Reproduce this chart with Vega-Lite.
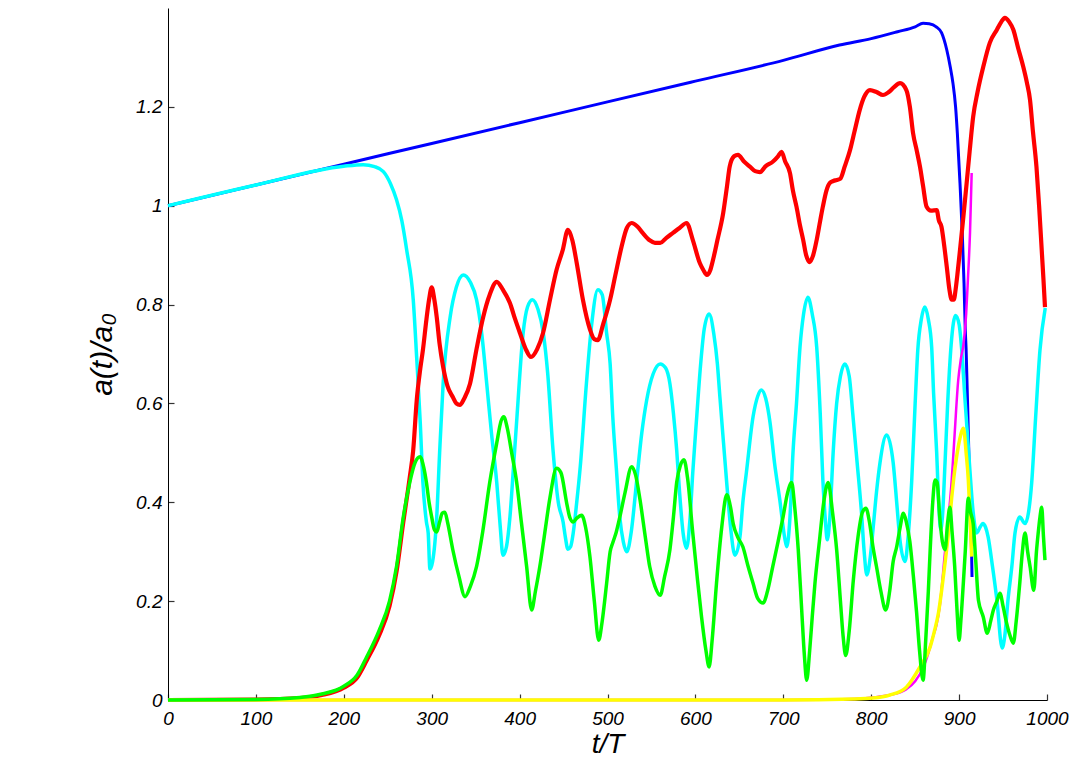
{
"$schema": "https://vega.github.io/schema/vega-lite/v6.json",
"width": 879, "height": 692,
"autosize": {"type": "none"},
"padding": {"left": 168, "top": 8, "right": 27, "bottom": 57},
"background": "white",
"config": {
  "view": {"stroke": null},
  "axis": {"domainColor": "#000", "labelFont": "Liberation Sans", "labelFontStyle": "italic", "labelFontSize": 19, "labelColor": "#000",
    "titleFont": "Liberation Sans", "titleFontStyle": "italic", "titleFontWeight": "normal", "titleFontSize": 28, "titleColor": "#000",
    "grid": true, "gridColor": "#333", "gridWidth": 1.2, "gridOpacity": 1, "ticks": false, "domainWidth": 1}
},
"datasets": {
"d": [
{"s":"blue","t":0,"v":1.0},{"s":"blue","t":100,"v":1.042},{"s":"blue","t":200,"v":1.084},{"s":"blue","t":300,"v":1.126},{"s":"blue","t":400,"v":1.168},{"s":"blue","t":500,"v":1.21},{"s":"blue","t":600,"v":1.252},{"s":"blue","t":700,"v":1.294},{"s":"blue","t":764,"v":1.325},{"s":"blue","t":800,"v":1.338},{"s":"blue","t":830,"v":1.352},{"s":"blue","t":850,"v":1.362},{"s":"blue","t":859,"v":1.369},{"s":"blue","t":866,"v":1.368},{"s":"blue","t":874,"v":1.362},{"s":"blue","t":880,"v":1.35},{"s":"blue","t":886,"v":1.315},{"s":"blue","t":890,"v":1.28},{"s":"blue","t":893,"v":1.248},{"s":"blue","t":896,"v":1.2},{"s":"blue","t":898,"v":1.147},{"s":"blue","t":901,"v":1.046},{"s":"blue","t":903.6,"v":0.945},{"s":"blue","t":905.6,"v":0.843},{"s":"blue","t":907,"v":0.75},{"s":"blue","t":908,"v":0.708},{"s":"blue","t":910.5,"v":0.54},{"s":"blue","t":912.4,"v":0.405},{"s":"blue","t":914.3,"v":0.29},{"s":"blue","t":914.7,"v":0.249},

{"s":"cyan","t":0,"v":1.0},{"s":"cyan","t":100,"v":1.042},{"s":"cyan","t":200,"v":1.08},{"s":"cyan","t":222,"v":1.083},{"s":"cyan","t":235,"v":1.079},{"s":"cyan","t":245,"v":1.069},{"s":"cyan","t":253,"v":1.045},{"s":"cyan","t":260,"v":1.012},{"s":"cyan","t":266,"v":0.97},{"s":"cyan","t":271.5,"v":0.911},{"s":"cyan","t":279,"v":0.81},{"s":"cyan","t":283,"v":0.69},{"s":"cyan","t":287,"v":0.56},{"s":"cyan","t":290,"v":0.44},{"s":"cyan","t":294,"v":0.36},{"s":"cyan","t":296,"v":0.338},{"s":"cyan","t":298,"v":0.265},{"s":"cyan","t":301,"v":0.28},{"s":"cyan","t":305.7,"v":0.37},{"s":"cyan","t":309,"v":0.5},{"s":"cyan","t":313,"v":0.64},{"s":"cyan","t":321,"v":0.775},{"s":"cyan","t":328,"v":0.835},{"s":"cyan","t":336,"v":0.86},{"s":"cyan","t":344,"v":0.845},{"s":"cyan","t":351,"v":0.81},{"s":"cyan","t":357,"v":0.74},{"s":"cyan","t":362.6,"v":0.64},{"s":"cyan","t":368,"v":0.54},{"s":"cyan","t":374,"v":0.44},{"s":"cyan","t":378,"v":0.35},{"s":"cyan","t":381,"v":0.293},{"s":"cyan","t":385,"v":0.31},{"s":"cyan","t":389,"v":0.37},{"s":"cyan","t":393,"v":0.47},{"s":"cyan","t":397,"v":0.573},{"s":"cyan","t":404,"v":0.742},{"s":"cyan","t":409,"v":0.795},{"s":"cyan","t":414.5,"v":0.81},{"s":"cyan","t":421,"v":0.79},{"s":"cyan","t":427,"v":0.742},{"s":"cyan","t":432,"v":0.66},{"s":"cyan","t":438,"v":0.506},{"s":"cyan","t":444,"v":0.4},{"s":"cyan","t":449.5,"v":0.36},{"s":"cyan","t":452,"v":0.33},{"s":"cyan","t":455,"v":0.305},{"s":"cyan","t":458,"v":0.31},{"s":"cyan","t":461,"v":0.338},{"s":"cyan","t":465,"v":0.4},{"s":"cyan","t":469,"v":0.472},{"s":"cyan","t":476,"v":0.64},{"s":"cyan","t":482,"v":0.76},{"s":"cyan","t":489,"v":0.83},{"s":"cyan","t":494,"v":0.82},{"s":"cyan","t":499,"v":0.742},{"s":"cyan","t":503,"v":0.68},{"s":"cyan","t":506,"v":0.573},{"s":"cyan","t":510,"v":0.47},{"s":"cyan","t":514,"v":0.37},{"s":"cyan","t":518,"v":0.32},{"s":"cyan","t":522,"v":0.3},{"s":"cyan","t":527,"v":0.34},{"s":"cyan","t":533,"v":0.44},{"s":"cyan","t":539,"v":0.54},{"s":"cyan","t":544.6,"v":0.607},{"s":"cyan","t":552,"v":0.66},{"s":"cyan","t":560,"v":0.68},{"s":"cyan","t":566,"v":0.672},{"s":"cyan","t":571,"v":0.64},{"s":"cyan","t":575,"v":0.58},{"s":"cyan","t":578.7,"v":0.506},{"s":"cyan","t":582,"v":0.42},{"s":"cyan","t":586,"v":0.338},{"s":"cyan","t":590,"v":0.307},{"s":"cyan","t":594,"v":0.37},{"s":"cyan","t":597,"v":0.46},{"s":"cyan","t":601.5,"v":0.573},{"s":"cyan","t":606,"v":0.68},{"s":"cyan","t":610,"v":0.75},{"s":"cyan","t":615.6,"v":0.781},{"s":"cyan","t":621,"v":0.74},{"s":"cyan","t":625,"v":0.68},{"s":"cyan","t":628,"v":0.61},{"s":"cyan","t":632,"v":0.52},{"s":"cyan","t":635.6,"v":0.44},{"s":"cyan","t":640,"v":0.35},{"s":"cyan","t":645,"v":0.293},{"s":"cyan","t":650.7,"v":0.33},{"s":"cyan","t":654,"v":0.4},{"s":"cyan","t":658,"v":0.46},{"s":"cyan","t":665.6,"v":0.573},{"s":"cyan","t":671,"v":0.615},{"s":"cyan","t":675,"v":0.627},{"s":"cyan","t":680,"v":0.61},{"s":"cyan","t":685,"v":0.56},{"s":"cyan","t":690,"v":0.48},{"s":"cyan","t":696,"v":0.405},{"s":"cyan","t":702,"v":0.324},{"s":"cyan","t":704,"v":0.31},{"s":"cyan","t":707.6,"v":0.37},{"s":"cyan","t":711,"v":0.5},{"s":"cyan","t":715,"v":0.6},{"s":"cyan","t":719,"v":0.714},{"s":"cyan","t":723,"v":0.78},{"s":"cyan","t":728,"v":0.815},{"s":"cyan","t":733,"v":0.78},{"s":"cyan","t":738,"v":0.714},{"s":"cyan","t":742,"v":0.58},{"s":"cyan","t":745,"v":0.445},{"s":"cyan","t":748,"v":0.36},{"s":"cyan","t":750,"v":0.324},{"s":"cyan","t":753,"v":0.37},{"s":"cyan","t":756.7,"v":0.5},{"s":"cyan","t":760.7,"v":0.6},{"s":"cyan","t":765,"v":0.655},{"s":"cyan","t":770,"v":0.68},{"s":"cyan","t":775,"v":0.655},{"s":"cyan","t":779,"v":0.58},{"s":"cyan","t":784,"v":0.48},{"s":"cyan","t":789,"v":0.378},{"s":"cyan","t":792,"v":0.3},{"s":"cyan","t":795,"v":0.253},{"s":"cyan","t":799,"v":0.29},{"s":"cyan","t":802,"v":0.344},{"s":"cyan","t":806,"v":0.42},{"s":"cyan","t":810,"v":0.48},{"s":"cyan","t":817.6,"v":0.536},{"s":"cyan","t":825,"v":0.48},{"s":"cyan","t":829,"v":0.4},{"s":"cyan","t":832.7,"v":0.324},{"s":"cyan","t":838.5,"v":0.28},{"s":"cyan","t":842,"v":0.33},{"s":"cyan","t":846,"v":0.44},{"s":"cyan","t":850,"v":0.6},{"s":"cyan","t":853,"v":0.708},{"s":"cyan","t":857,"v":0.77},{"s":"cyan","t":861,"v":0.795},{"s":"cyan","t":865,"v":0.77},{"s":"cyan","t":868.8,"v":0.714},{"s":"cyan","t":871,"v":0.62},{"s":"cyan","t":874.5,"v":0.5},{"s":"cyan","t":877,"v":0.39},{"s":"cyan","t":879,"v":0.345},{"s":"cyan","t":881,"v":0.37},{"s":"cyan","t":884,"v":0.48},{"s":"cyan","t":887,"v":0.6},{"s":"cyan","t":891,"v":0.72},{"s":"cyan","t":896,"v":0.778},{"s":"cyan","t":900,"v":0.76},{"s":"cyan","t":903,"v":0.708},{"s":"cyan","t":907,"v":0.6},{"s":"cyan","t":912,"v":0.472},{"s":"cyan","t":916,"v":0.38},{"s":"cyan","t":920,"v":0.338},{"s":"cyan","t":924,"v":0.35},{"s":"cyan","t":927,"v":0.357},{"s":"cyan","t":930,"v":0.35},{"s":"cyan","t":933,"v":0.33},{"s":"cyan","t":938,"v":0.27},{"s":"cyan","t":943,"v":0.202},{"s":"cyan","t":949,"v":0.105},{"s":"cyan","t":952,"v":0.13},{"s":"cyan","t":955.6,"v":0.202},{"s":"cyan","t":960,"v":0.27},{"s":"cyan","t":963.6,"v":0.338},{"s":"cyan","t":969,"v":0.37},{"s":"cyan","t":975,"v":0.357},{"s":"cyan","t":979,"v":0.38},{"s":"cyan","t":982.6,"v":0.44},{"s":"cyan","t":987,"v":0.57},{"s":"cyan","t":992,"v":0.708},{"s":"cyan","t":998,"v":0.793},

{"s":"red","t":0,"v":0},{"s":"red","t":100,"v":0.001},{"s":"red","t":150,"v":0.004},{"s":"red","t":175,"v":0.01},{"s":"red","t":200,"v":0.025},{"s":"red","t":215,"v":0.045},{"s":"red","t":226,"v":0.08},{"s":"red","t":240,"v":0.13},{"s":"red","t":252,"v":0.19},{"s":"red","t":260,"v":0.26},{"s":"red","t":267.7,"v":0.36},{"s":"red","t":275,"v":0.45},{"s":"red","t":279,"v":0.506},{"s":"red","t":283,"v":0.607},{"s":"red","t":287,"v":0.67},{"s":"red","t":290,"v":0.708},{"s":"red","t":294,"v":0.77},{"s":"red","t":297,"v":0.81},{"s":"red","t":300,"v":0.835},{"s":"red","t":303,"v":0.81},{"s":"red","t":305.7,"v":0.775},{"s":"red","t":309,"v":0.72},{"s":"red","t":313,"v":0.674},{"s":"red","t":318,"v":0.635},{"s":"red","t":324,"v":0.613},{"s":"red","t":328,"v":0.6},{"s":"red","t":332,"v":0.597},{"s":"red","t":337,"v":0.61},{"s":"red","t":343.6,"v":0.64},{"s":"red","t":351,"v":0.71},{"s":"red","t":358.6,"v":0.775},{"s":"red","t":366,"v":0.82},{"s":"red","t":374,"v":0.846},{"s":"red","t":381,"v":0.83},{"s":"red","t":389,"v":0.803},{"s":"red","t":395,"v":0.77},{"s":"red","t":400.5,"v":0.742},{"s":"red","t":407,"v":0.71},{"s":"red","t":413,"v":0.694},{"s":"red","t":420,"v":0.71},{"s":"red","t":426.6,"v":0.742},{"s":"red","t":434.6,"v":0.81},{"s":"red","t":442,"v":0.87},{"s":"red","t":449,"v":0.91},{"s":"red","t":455,"v":0.951},{"s":"red","t":460,"v":0.93},{"s":"red","t":465,"v":0.884},{"s":"red","t":472,"v":0.81},{"s":"red","t":480,"v":0.75},{"s":"red","t":485,"v":0.73},{"s":"red","t":489,"v":0.728},{"s":"red","t":495,"v":0.76},{"s":"red","t":503,"v":0.81},{"s":"red","t":509,"v":0.86},{"s":"red","t":516,"v":0.917},{"s":"red","t":522,"v":0.955},{"s":"red","t":527.5,"v":0.965},{"s":"red","t":534,"v":0.958},{"s":"red","t":540,"v":0.945},{"s":"red","t":548,"v":0.93},{"s":"red","t":554,"v":0.925},{"s":"red","t":560,"v":0.925},{"s":"red","t":567,"v":0.935},{"s":"red","t":574.5,"v":0.945},{"s":"red","t":582,"v":0.955},{"s":"red","t":590,"v":0.965},{"s":"red","t":597,"v":0.931},{"s":"red","t":605,"v":0.884},{"s":"red","t":609,"v":0.87},{"s":"red","t":613,"v":0.86},{"s":"red","t":617,"v":0.87},{"s":"red","t":620,"v":0.89},{"s":"red","t":625,"v":0.93},{"s":"red","t":631.6,"v":0.985},{"s":"red","t":636,"v":1.04},{"s":"red","t":639,"v":1.079},{"s":"red","t":644,"v":1.1},{"s":"red","t":648.5,"v":1.103},{"s":"red","t":655,"v":1.09},{"s":"red","t":662,"v":1.079},{"s":"red","t":668,"v":1.07},{"s":"red","t":673.5,"v":1.068},{"s":"red","t":680,"v":1.08},{"s":"red","t":688,"v":1.089},{"s":"red","t":694,"v":1.1},{"s":"red","t":698,"v":1.109},{"s":"red","t":702,"v":1.09},{"s":"red","t":707.6,"v":1.066},{"s":"red","t":711,"v":1.03},{"s":"red","t":715,"v":0.998},{"s":"red","t":719,"v":0.96},{"s":"red","t":722.6,"v":0.931},{"s":"red","t":726,"v":0.9},{"s":"red","t":730,"v":0.886},{"s":"red","t":734,"v":0.9},{"s":"red","t":738,"v":0.931},{"s":"red","t":742,"v":0.97},{"s":"red","t":745,"v":0.998},{"s":"red","t":749,"v":1.03},{"s":"red","t":753,"v":1.046},{"s":"red","t":757,"v":1.05},{"s":"red","t":760.7,"v":1.052},{"s":"red","t":765,"v":1.055},{"s":"red","t":770,"v":1.08},{"s":"red","t":776,"v":1.113},{"s":"red","t":781,"v":1.15},{"s":"red","t":787,"v":1.194},{"s":"red","t":792,"v":1.22},{"s":"red","t":798.6,"v":1.234},{"s":"red","t":806,"v":1.23},{"s":"red","t":813.4,"v":1.224},{"s":"red","t":820,"v":1.23},{"s":"red","t":826,"v":1.24},{"s":"red","t":832.8,"v":1.248},{"s":"red","t":840,"v":1.234},{"s":"red","t":844,"v":1.2},{"s":"red","t":847.6,"v":1.147},{"s":"red","t":852,"v":1.11},{"s":"red","t":855.5,"v":1.079},{"s":"red","t":859,"v":1.04},{"s":"red","t":863,"v":0.998},{"s":"red","t":868,"v":0.99},{"s":"red","t":874.5,"v":0.991},{"s":"red","t":877,"v":0.97},{"s":"red","t":880,"v":0.957},{"s":"red","t":883,"v":0.92},{"s":"red","t":886,"v":0.876},{"s":"red","t":889,"v":0.83},{"s":"red","t":891.6,"v":0.81},{"s":"red","t":894,"v":0.81},{"s":"red","t":896,"v":0.83},{"s":"red","t":898,"v":0.86},{"s":"red","t":901,"v":0.91},{"s":"red","t":905,"v":0.98},{"s":"red","t":908.6,"v":1.046},{"s":"red","t":912,"v":1.11},{"s":"red","t":916,"v":1.18},{"s":"red","t":921,"v":1.23},{"s":"red","t":927.5,"v":1.281},{"s":"red","t":935,"v":1.33},{"s":"red","t":943,"v":1.356},{"s":"red","t":948,"v":1.372},{"s":"red","t":952,"v":1.38},{"s":"red","t":957,"v":1.372},{"s":"red","t":961.7,"v":1.356},{"s":"red","t":967,"v":1.32},{"s":"red","t":973,"v":1.281},{"s":"red","t":977,"v":1.25},{"s":"red","t":980.7,"v":1.214},{"s":"red","t":984,"v":1.15},{"s":"red","t":988,"v":1.079},{"s":"red","t":991,"v":1.0},{"s":"red","t":994,"v":0.91},{"s":"red","t":996,"v":0.85},{"s":"red","t":997.7,"v":0.795},

{"s":"magenta","t":0,"v":0},{"s":"magenta","t":700,"v":0},{"s":"magenta","t":780,"v":0.002},{"s":"magenta","t":802,"v":0.005},{"s":"magenta","t":821,"v":0.01},{"s":"magenta","t":840,"v":0.022},{"s":"magenta","t":850,"v":0.038},{"s":"magenta","t":859,"v":0.065},{"s":"magenta","t":865,"v":0.095},{"s":"magenta","t":870.6,"v":0.13},{"s":"magenta","t":874,"v":0.15},{"s":"magenta","t":878,"v":0.19},{"s":"magenta","t":884,"v":0.3},{"s":"magenta","t":888,"v":0.37},{"s":"magenta","t":891.6,"v":0.445},{"s":"magenta","t":895,"v":0.54},{"s":"magenta","t":899,"v":0.647},{"s":"magenta","t":902,"v":0.69},{"s":"magenta","t":905,"v":0.72},{"s":"magenta","t":908,"v":0.78},{"s":"magenta","t":910,"v":0.85},{"s":"magenta","t":912.4,"v":0.945},{"s":"magenta","t":914.3,"v":1.066},

{"s":"yellow","t":0,"v":0},{"s":"yellow","t":700,"v":0},{"s":"yellow","t":780,"v":0.002},{"s":"yellow","t":802,"v":0.004},{"s":"yellow","t":821,"v":0.01},{"s":"yellow","t":840,"v":0.026},{"s":"yellow","t":855.5,"v":0.067},{"s":"yellow","t":867,"v":0.107},{"s":"yellow","t":872,"v":0.14},{"s":"yellow","t":876.5,"v":0.176},{"s":"yellow","t":880,"v":0.22},{"s":"yellow","t":884,"v":0.277},{"s":"yellow","t":888,"v":0.34},{"s":"yellow","t":891.6,"v":0.41},{"s":"yellow","t":894,"v":0.45},{"s":"yellow","t":897,"v":0.49},{"s":"yellow","t":901,"v":0.53},{"s":"yellow","t":905,"v":0.55},{"s":"yellow","t":908,"v":0.5},{"s":"yellow","t":910.5,"v":0.445},{"s":"yellow","t":912.5,"v":0.37},{"s":"yellow","t":914.3,"v":0.29},

{"s":"green","t":0,"v":0},{"s":"green","t":100,"v":0.001},{"s":"green","t":150,"v":0.005},{"s":"green","t":175,"v":0.012},{"s":"green","t":200,"v":0.028},{"s":"green","t":215,"v":0.05},{"s":"green","t":226,"v":0.087},{"s":"green","t":240,"v":0.14},{"s":"green","t":252,"v":0.2},{"s":"green","t":260,"v":0.27},{"s":"green","t":267.7,"v":0.37},{"s":"green","t":275,"v":0.44},{"s":"green","t":281,"v":0.48},{"s":"green","t":286.7,"v":0.492},{"s":"green","t":291,"v":0.47},{"s":"green","t":294,"v":0.44},{"s":"green","t":297,"v":0.4},{"s":"green","t":300,"v":0.37},{"s":"green","t":303,"v":0.345},{"s":"green","t":305.7,"v":0.34},{"s":"green","t":309,"v":0.36},{"s":"green","t":312,"v":0.378},{"s":"green","t":315,"v":0.38},{"s":"green","t":318,"v":0.36},{"s":"green","t":324,"v":0.304},{"s":"green","t":331,"v":0.25},{"s":"green","t":337.9,"v":0.209},{"s":"green","t":344,"v":0.23},{"s":"green","t":351,"v":0.27},{"s":"green","t":358,"v":0.34},{"s":"green","t":366,"v":0.44},{"s":"green","t":374,"v":0.52},{"s":"green","t":379,"v":0.565},{"s":"green","t":382,"v":0.573},{"s":"green","t":386,"v":0.55},{"s":"green","t":391,"v":0.5},{"s":"green","t":396.7,"v":0.44},{"s":"green","t":402,"v":0.36},{"s":"green","t":408,"v":0.27},{"s":"green","t":413.7,"v":0.182},{"s":"green","t":418,"v":0.22},{"s":"green","t":423,"v":0.27},{"s":"green","t":428,"v":0.33},{"s":"green","t":434.6,"v":0.41},{"s":"green","t":442,"v":0.469},{"s":"green","t":447,"v":0.46},{"s":"green","t":453.6,"v":0.398},{"s":"green","t":457,"v":0.37},{"s":"green","t":461,"v":0.36},{"s":"green","t":465,"v":0.368},{"s":"green","t":470.6,"v":0.374},{"s":"green","t":475,"v":0.35},{"s":"green","t":480,"v":0.29},{"s":"green","t":485,"v":0.2},{"s":"green","t":490,"v":0.121},{"s":"green","t":494,"v":0.16},{"s":"green","t":499,"v":0.236},{"s":"green","t":503,"v":0.3},{"s":"green","t":506,"v":0.318},{"s":"green","t":510,"v":0.34},{"s":"green","t":514,"v":0.37},{"s":"green","t":520,"v":0.42},{"s":"green","t":527.5,"v":0.472},{"s":"green","t":532,"v":0.455},{"s":"green","t":537,"v":0.405},{"s":"green","t":543,"v":0.33},{"s":"green","t":548,"v":0.27},{"s":"green","t":554,"v":0.23},{"s":"green","t":560,"v":0.212},{"s":"green","t":565,"v":0.25},{"s":"green","t":571,"v":0.304},{"s":"green","t":575,"v":0.37},{"s":"green","t":578.7,"v":0.44},{"s":"green","t":583,"v":0.475},{"s":"green","t":587,"v":0.486},{"s":"green","t":591,"v":0.45},{"s":"green","t":597,"v":0.338},{"s":"green","t":602,"v":0.25},{"s":"green","t":607,"v":0.168},{"s":"green","t":612,"v":0.1},{"s":"green","t":615.6,"v":0.067},{"s":"green","t":619,"v":0.12},{"s":"green","t":624,"v":0.236},{"s":"green","t":630,"v":0.35},{"s":"green","t":635.6,"v":0.415},{"s":"green","t":640,"v":0.39},{"s":"green","t":643,"v":0.357},{"s":"green","t":648,"v":0.33},{"s":"green","t":654,"v":0.31},{"s":"green","t":660,"v":0.27},{"s":"green","t":665.6,"v":0.236},{"s":"green","t":671,"v":0.205},{"s":"green","t":677,"v":0.196},{"s":"green","t":682,"v":0.22},{"s":"green","t":688,"v":0.27},{"s":"green","t":694,"v":0.32},{"s":"green","t":699.7,"v":0.37},{"s":"green","t":705,"v":0.42},{"s":"green","t":709.5,"v":0.44},{"s":"green","t":713,"v":0.39},{"s":"green","t":717,"v":0.304},{"s":"green","t":721,"v":0.18},{"s":"green","t":724,"v":0.09},{"s":"green","t":726.6,"v":0.04},{"s":"green","t":730,"v":0.1},{"s":"green","t":733,"v":0.17},{"s":"green","t":736,"v":0.236},{"s":"green","t":741,"v":0.32},{"s":"green","t":746,"v":0.4},{"s":"green","t":751,"v":0.44},{"s":"green","t":756,"v":0.38},{"s":"green","t":760.7,"v":0.304},{"s":"green","t":765,"v":0.2},{"s":"green","t":768,"v":0.13},{"s":"green","t":771,"v":0.09},{"s":"green","t":775,"v":0.14},{"s":"green","t":779.7,"v":0.243},{"s":"green","t":785,"v":0.33},{"s":"green","t":790,"v":0.38},{"s":"green","t":794,"v":0.388},{"s":"green","t":798,"v":0.36},{"s":"green","t":802,"v":0.31},{"s":"green","t":806,"v":0.27},{"s":"green","t":811,"v":0.22},{"s":"green","t":816.5,"v":0.182},{"s":"green","t":821,"v":0.22},{"s":"green","t":825,"v":0.28},{"s":"green","t":829,"v":0.31},{"s":"green","t":833,"v":0.35},{"s":"green","t":836.6,"v":0.378},{"s":"green","t":840,"v":0.36},{"s":"green","t":844,"v":0.32},{"s":"green","t":848,"v":0.25},{"s":"green","t":851.7,"v":0.176},{"s":"green","t":855,"v":0.1},{"s":"green","t":859,"v":0.04},{"s":"green","t":862,"v":0.12},{"s":"green","t":865,"v":0.22},{"s":"green","t":867,"v":0.3},{"s":"green","t":870,"v":0.4},{"s":"green","t":872.6,"v":0.445},{"s":"green","t":875,"v":0.44},{"s":"green","t":878,"v":0.37},{"s":"green","t":881,"v":0.32},{"s":"green","t":884,"v":0.304},{"s":"green","t":887,"v":0.36},{"s":"green","t":889.6,"v":0.39},{"s":"green","t":892,"v":0.34},{"s":"green","t":895,"v":0.27},{"s":"green","t":898,"v":0.17},{"s":"green","t":900,"v":0.121},{"s":"green","t":902,"v":0.16},{"s":"green","t":904.8,"v":0.236},{"s":"green","t":907,"v":0.3},{"s":"green","t":910.5,"v":0.408},{"s":"green","t":913,"v":0.38},{"s":"green","t":916,"v":0.357},{"s":"green","t":919,"v":0.28},{"s":"green","t":922,"v":0.202},{"s":"green","t":927.5,"v":0.168},{"s":"green","t":932,"v":0.135},{"s":"green","t":936,"v":0.16},{"s":"green","t":939,"v":0.182},{"s":"green","t":943,"v":0.2},{"s":"green","t":946.5,"v":0.216},{"s":"green","t":950,"v":0.19},{"s":"green","t":954,"v":0.156},{"s":"green","t":958,"v":0.13},{"s":"green","t":961.7,"v":0.115},{"s":"green","t":965,"v":0.16},{"s":"green","t":969,"v":0.236},{"s":"green","t":972,"v":0.3},{"s":"green","t":975,"v":0.338},{"s":"green","t":978,"v":0.3},{"s":"green","t":980.7,"v":0.27},{"s":"green","t":985,"v":0.222},{"s":"green","t":988,"v":0.3},{"s":"green","t":990,"v":0.338},{"s":"green","t":992,"v":0.37},{"s":"green","t":994,"v":0.39},{"s":"green","t":996,"v":0.33},{"s":"green","t":997.7,"v":0.283}
]
},
"data": {"name": "d"},
"encoding": {
  "x": {"field": "t", "type": "quantitative", "scale": {"domain": [0, 1000], "nice": false},
    "axis": {"values": [0,100,200,300,400,500,600,700,800,900,1000], "format": "d", "title": "t/T", "labelPadding": 9, "titlePadding": 2, "labelFlush": false,
      "gridDash": [6, 3000], "gridDashOffset": 2320}},
  "y": {"field": "v", "type": "quantitative", "scale": {"domain": [0, 1.4], "nice": false},
    "axis": {"values": [0,0.2,0.4,0.6,0.8,1,1.2], "format": "~g", "title": "a(t)/a₀", "labelPadding": 6, "titlePadding": 18, "titleFontSize": 30,
      "gridDash": [6, 3000], "gridDashOffset": 0}},
  "color": {"field": "s", "type": "nominal", "legend": null,
    "scale": {"domain": ["blue","cyan","red","magenta","yellow","green"], "range": ["#0000ff","#00ffff","#ff0000","#ff00ff","#ffff00","#00ff00"]}}
},
"layer": [
  {"transform": [{"filter": "datum.s === 'blue'"}], "mark": {"type": "line", "strokeWidth": 3, "interpolate": "monotone"}},
  {"transform": [{"filter": "datum.s === 'cyan'"}], "mark": {"type": "line", "strokeWidth": 3.5, "interpolate": "monotone"}},
  {"transform": [{"filter": "datum.s === 'red'"}], "mark": {"type": "line", "strokeWidth": 4.2, "interpolate": "monotone"}},
  {"transform": [{"filter": "datum.s === 'magenta'"}], "mark": {"type": "line", "strokeWidth": 2.5, "interpolate": "monotone"}},
  {"transform": [{"filter": "datum.s === 'yellow'"}], "mark": {"type": "line", "strokeWidth": 3.5, "interpolate": "monotone"}},
  {"transform": [{"filter": "datum.s === 'green'"}], "mark": {"type": "line", "strokeWidth": 3.5, "interpolate": "monotone"}}
]
}
